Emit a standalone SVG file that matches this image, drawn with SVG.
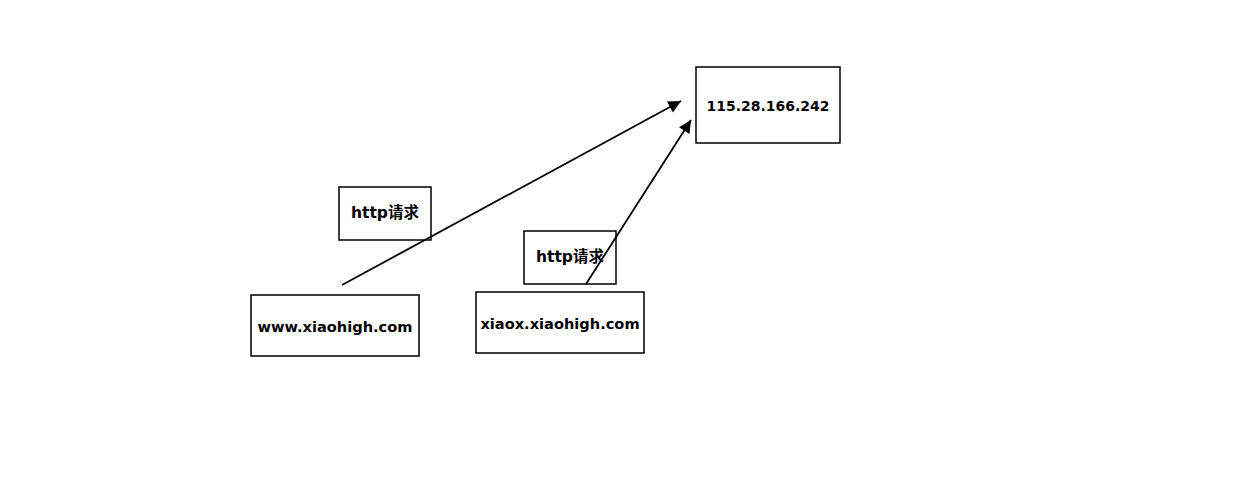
<svg xmlns="http://www.w3.org/2000/svg" width="1233" height="480" viewBox="0 0 1233 480">
<style>
.box{fill:#fff;stroke:#000;stroke-width:1.5}
.t{font-family:"DejaVu Sans","Noto Sans CJK SC",sans-serif;font-weight:bold;font-size:14.6px;text-anchor:middle;dominant-baseline:central;fill:#000}
.c{stroke:#000;stroke-width:1.8;fill:none}
</style>
<defs>
<marker id="ah" viewBox="0 0 10 10" refX="10" refY="5" markerWidth="8" markerHeight="7" markerUnits="strokeWidth" orient="auto">
<path d="M0,0 L10,5 L0,10 z" fill="#000"/>
</marker>
</defs>
<rect width="1233" height="480" fill="#fff"/>
<g id="ip"><rect class="box" x="696" y="67" width="144" height="76"/><text class="t" x="768" y="105" textLength="123" lengthAdjust="spacingAndGlyphs">115.28.166.242</text></g>
<g id="www"><rect class="box" x="251" y="295" width="168" height="61"/><text class="t" x="335" y="326">www.xiaohigh.com</text></g>
<g id="xiaox"><rect class="box" x="476" y="292" width="168" height="61"/><text class="t" x="560" y="323">xiaox.xiaohigh.com</text></g>
<g id="label1"><rect class="box" x="339" y="187" width="92" height="53"/><text class="t" x="385" y="213" style="font-size:15.5px">http请求</text></g>
<g id="label2"><rect class="box" x="524" y="231" width="92" height="53"/><text class="t" x="570" y="257" style="font-size:15.5px">http请求</text></g>
<g id="connectors">
<line class="c" x1="342" y1="285" x2="681" y2="101" marker-end="url(#ah)"/>
<line class="c" x1="586" y1="284" x2="691" y2="120" marker-end="url(#ah)"/>
</g>
</svg>
